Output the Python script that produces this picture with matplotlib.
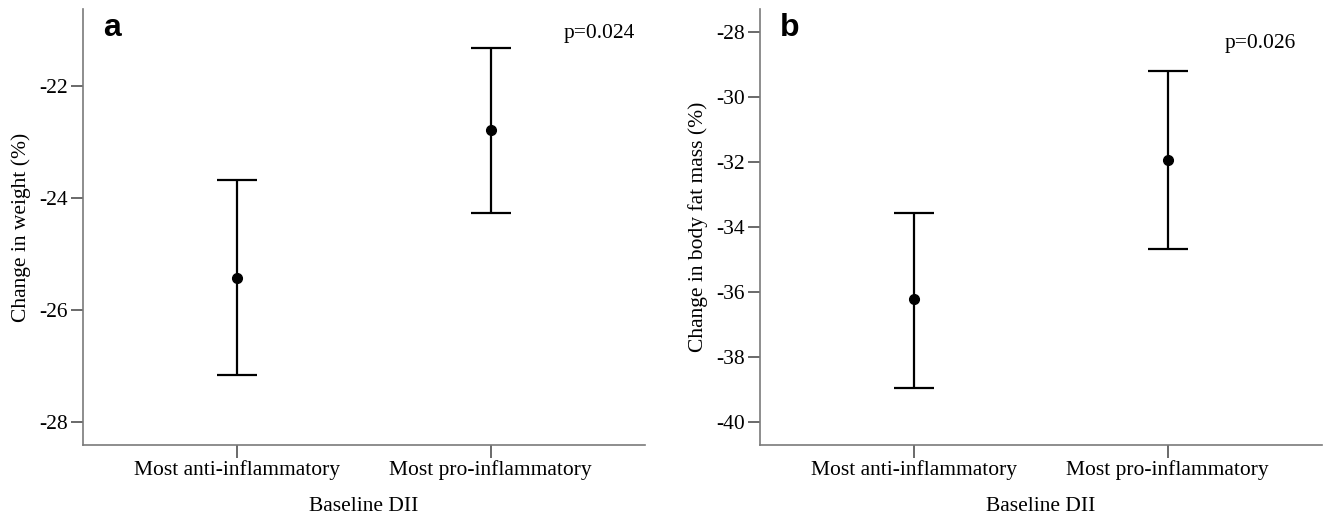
import matplotlib.pyplot as plt
import numpy as np

plt.rcParams['font.family'] = ['Liberation Serif', 'DejaVu Serif']

groups = ['Most anti-inflammatory', 'Most pro-inflammatory']

# panel a: change in weight (%)
weight_mean = [-25.43, -22.80]
weight_low = [-27.16, -24.27]
weight_high = [-23.68, -21.32]

# panel b: change in body fat mass (%)
fat_mean = [-36.22, -31.93]
fat_low = [-38.95, -34.69]
fat_high = [-33.58, -29.20]

fig = plt.figure(figsize=(13.24, 5.21), dpi=100)
ax1 = fig.add_axes([0.0627, 0.146, 0.4245, 0.837])
ax2 = fig.add_axes([0.574, 0.146, 0.4245, 0.837])

spine_col = '#7a7a7a'
fs = 15.5


def draw(ax, mean, low, high, ylab, yticks, ylim, letter, ptxt, pxy):
    x = np.arange(len(groups))
    mean = np.array(mean)
    err = [mean - np.array(low), np.array(high) - mean]
    ax.errorbar(x, mean, yerr=err, fmt='o', color='black', ms=7,
                elinewidth=1.6, capsize=14.5, capthick=1.6)
    ax.set_xlim(-0.61, 1.61)
    ax.set_ylim(*ylim)
    ax.set_xticks(x)
    ax.set_xticklabels(groups, fontsize=fs)
    ax.set_yticks(yticks)
    ax.set_yticklabels([str(t) for t in yticks], fontsize=fs)
    ax.set_xlabel('Baseline DII', fontsize=fs, labelpad=12)
    ax.set_ylabel(ylab, fontsize=fs, labelpad=6)
    for s in ['top', 'right']:
        ax.spines[s].set_visible(False)
    for s in ['left', 'bottom']:
        ax.spines[s].set_color(spine_col)
        ax.spines[s].set_linewidth(1.2)
    ax.tick_params(direction='out', length=9, width=1.2, color='#505050', pad=2)
    ax.text(0.035, 0.955, letter, transform=ax.transAxes, fontsize=23,
            fontweight='bold', family='Liberation Sans', va='center', ha='left')
    ax.text(pxy[0], pxy[1], ptxt, transform=ax.transAxes, fontsize=fs,
            va='center', ha='left')


draw(ax1, weight_mean, weight_low, weight_high, 'Change in weight (%)',
     [-28, -26, -24, -22], (-28.41, -20.63), 'a', 'p=0.024', (0.855, 0.944))
draw(ax2, fat_mean, fat_low, fat_high, 'Change in body fat mass (%)',
     [-40, -38, -36, -34, -32, -30, -28], (-40.7, -27.3), 'b', 'p=0.026', (0.827, 0.921))

fig.savefig('out.png', dpi=100)
